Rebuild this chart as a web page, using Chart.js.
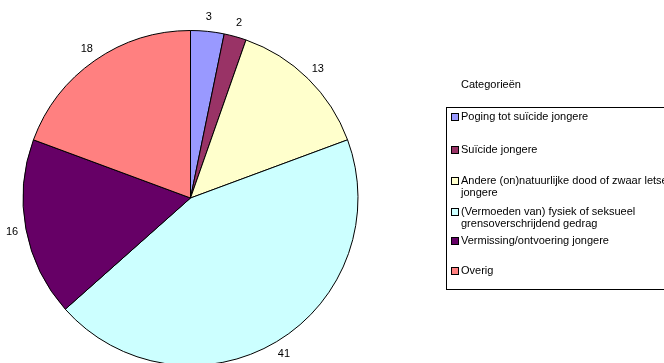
<!DOCTYPE html>
<html>
<head>
<meta charset="utf-8">
<script src="https://cdn.jsdelivr.net/npm/chart.js@4/dist/chart.umd.min.js"></script>
<style>
  html, body { margin: 0; padding: 0; background: #fff; overflow: hidden; width: 664px; height: 363px; }
  #wrap { position: relative; width: 664px; height: 363px; overflow: hidden; }
  #pie { position: absolute; left: 0; top: 0; }
  .legend-title { position: absolute; left: 461px; top: 78px; font: 11px "Liberation Sans", Arial, sans-serif; color: #000; }
  .legend-box { position: absolute; left: 446px; top: 107px; width: 260px; height: 183px; border: 1px solid #000; box-sizing: border-box; }
  .legend-item { position: absolute; left: 4px; font: 11px/11.5px "Liberation Sans", Arial, sans-serif; color: #000; white-space: nowrap; }
  .legend-item .sw { position: absolute; left: 0; top: 2px; width: 6px; height: 6px; border: 1px solid #000; }
  .legend-item .tx { position: absolute; left: 10px; top: 0; }
</style>
</head>
<body>
<div id="wrap">
  <canvas id="pie" width="664" height="400"></canvas>
  <div class="legend-title">Categorieën</div>
  <div class="legend-box" id="legend"></div>
</div>
<script>
// Meldingen per categorie
const categories = [
  'Poging tot suïcide jongere',
  'Suïcide jongere',
  'Andere (on)natuurlijke dood of zwaar letsel jongere',
  '(Vermoeden van) fysiek of seksueel grensoverschrijdend gedrag',
  'Vermissing/ontvoering jongere',
  'Overig'
];
const legendLines = [
  ['Poging tot suïcide jongere'],
  ['Suïcide jongere'],
  ['Andere (on)natuurlijke dood of zwaar letsel', 'jongere'],
  ['(Vermoeden van) fysiek of seksueel', 'grensoverschrijdend gedrag'],
  ['Vermissing/ontvoering jongere'],
  ['Overig']
];
const values = [3, 2, 13, 41, 16, 18];

// Slice colours
const colors = ['#9999FF', '#993366', '#FFFFCC', '#CCFFFF', '#660066', '#FF8080'];
// Vertical offset of each legend entry inside the box
const legendTops = [3, 36, 67, 98, 127, 157];

// Value labels just outside the rim
const outsideLabels = {
  id: 'outsideLabels',
  afterDatasetsDraw(chart) {
    const ctx = chart.ctx;
    const meta = chart.getDatasetMeta(0);
    ctx.save();
    ctx.font = '11px "Liberation Sans", Arial, sans-serif';
    ctx.fillStyle = '#000';
    ctx.textAlign = 'center';
    ctx.textBaseline = 'middle';
    meta.data.forEach((arc, i) => {
      const p = arc.getProps(['x', 'y', 'startAngle', 'endAngle', 'outerRadius'], true);
      const mid = (p.startAngle + p.endAngle) / 2;
      const r = p.outerRadius + 14;
      ctx.fillText(String(values[i]), p.x + Math.cos(mid) * r, p.y + Math.sin(mid) * r);
    });
    ctx.restore();
  }
};

new Chart(document.getElementById('pie'), {
  type: 'pie',
  data: {
    labels: categories,
    datasets: [{
      data: values,
      backgroundColor: colors,
      borderColor: '#000',
      borderWidth: 1
    }]
  },
  options: {
    responsive: false,
    animation: false,
    layout: { padding: { left: 22.5, right: 305.5, top: 30, bottom: 34 } },
    plugins: {
      legend: { display: false },
      tooltip: { enabled: false }
    }
  },
  plugins: [outsideLabels]
});

// Legend built from the same categories and colours
const legendEl = document.getElementById('legend');
legendLines.forEach((lines, i) => {
  const item = document.createElement('div');
  item.className = 'legend-item';
  item.style.top = legendTops[i] + 'px';
  const sw = document.createElement('div');
  sw.className = 'sw';
  sw.style.background = colors[i];
  const tx = document.createElement('div');
  tx.className = 'tx';
  tx.innerHTML = lines.map(l => l.replace(/&/g, '&amp;')).join('<br>');
  item.appendChild(sw);
  item.appendChild(tx);
  legendEl.appendChild(item);
});
</script>
</body>
</html>
